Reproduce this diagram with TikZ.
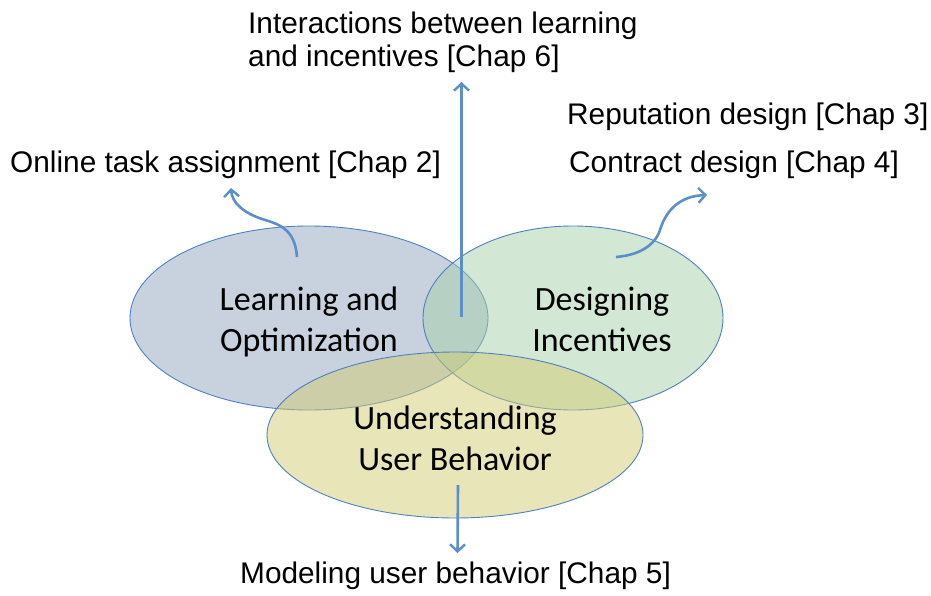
\documentclass[tikz,border=0pt]{standalone}
\usepackage{fontspec}
\setmainfont{Liberation Sans}
\newfontfamily\calfont{Carlito}
\usetikzlibrary{arrows.meta}
\definecolor{ellline}{RGB}{79,129,189}
\definecolor{arrowblue}{RGB}{91,143,201}
\definecolor{fillA}{RGB}{145,165,189}
\definecolor{fillB}{RGB}{167,207,171}
\definecolor{fillC}{RGB}{209,203,115}
\begin{document}
\begin{tikzpicture}[x=1pt,y=-1pt,
  venn/.style={draw=ellline, line width=0.9pt, fill opacity=0.5},
  lbl/.style={font=\calfont\fontsize{34}{41}\selectfont, align=center, inner sep=0pt},
  chap/.style={font=\fontsize{29.8}{33}\selectfont, inner sep=0pt, anchor=base west},
  arr/.style={draw=arrowblue, line width=2.6pt, -{Straight Barb[length=7pt,width=15pt,line width=2.4pt]}}]
\useasboundingbox (0,0) rectangle (931,596);
% ellipses
\draw[venn, fill=fillA] (309,318) ellipse [x radius=179, y radius=92];
\draw[venn, fill=fillB] (573,318) ellipse [x radius=150, y radius=92];
\draw[venn, fill=fillC] (455,435) ellipse [x radius=188, y radius=83];
% labels
\node[lbl] (lo) at (309,322) {Learning and\\Optimization};
\node[lbl] (di) at (602,319) {Designing\\Incentives};
\node[lbl] (ub) at (455,438) {Understanding\\User Behavior};
% chapter texts
\node[chap, align=left, anchor=north west] (t6) at (248,11.6) {Interactions between learning\\and incentives [Chap 6]};
\node[chap] (t3) at (567,125) {Reputation design [Chap 3]};
\node[chap] (t4) at (569,173) {Contract design [Chap 4]};
\node[chap] (t2) at (10,173) {Online task assignment [Chap 2]};
\node[chap] (t5) at (240,583) {Modeling user behavior [Chap 5]};
% arrow end points
\coordinate (a6s) at (461.5,317);
\coordinate (a6e) at (461.5,82);
\coordinate (a5s) at (458,485);
\coordinate (a5e) at (457.5,553);
\coordinate (a2s) at (297,257);
\coordinate (a2m) at (262,219);
\coordinate (a2e) at (231,188);
\coordinate (a4s) at (616,257);
\coordinate (a4m) at (660,230);
\coordinate (a4e) at (707,195);
% arrows
\draw[arr] (a6s) -- (a6e);
\draw[arr] (a5s) -- (a5e);
\draw[arr] (a2s) .. controls (295,228) and (278,224) .. (a2m)
  .. controls (244,213) and (232,203) .. (a2e);
\draw[arr] (a4s) .. controls (640,255) and (655,245) .. (a4m)
  .. controls (666,210) and (680,196) .. (a4e);
\end{tikzpicture}
\end{document}
